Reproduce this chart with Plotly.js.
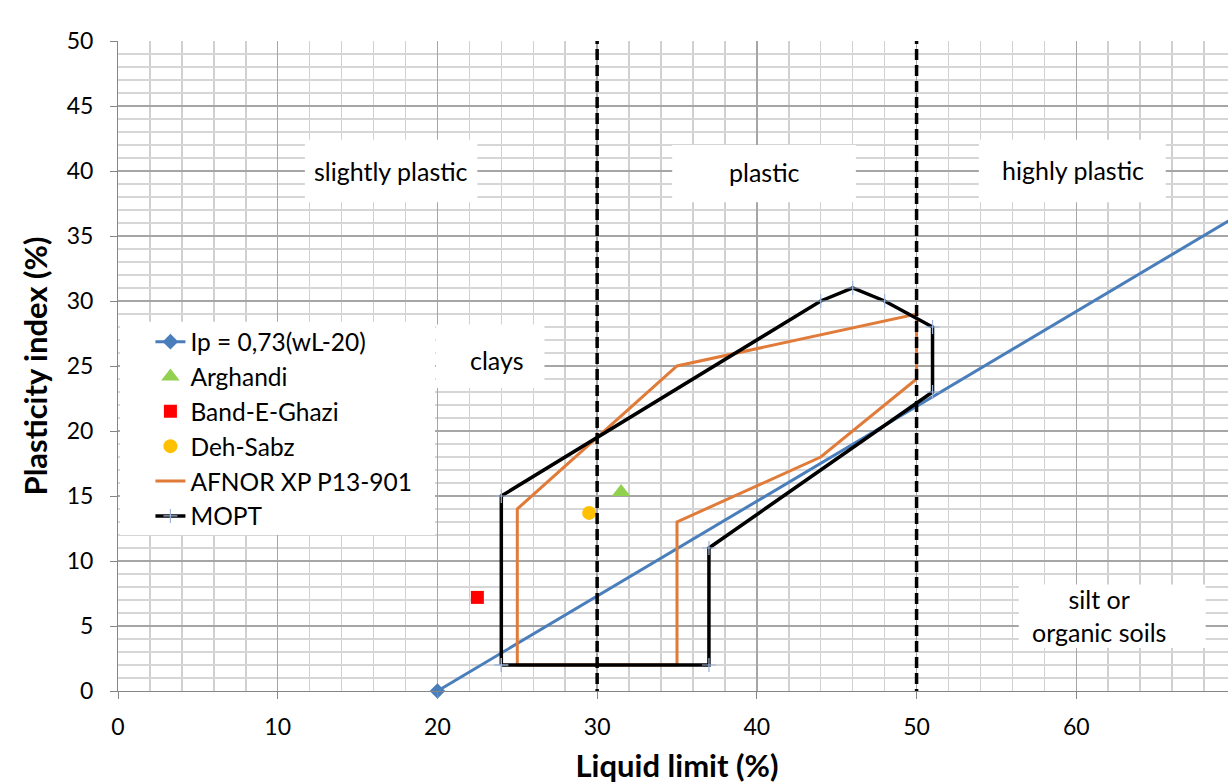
<!DOCTYPE html>
<html>
<head>
<meta charset="utf-8">
<script src="https://cdn.plot.ly/plotly-3.0.1.min.js"></script>
<style>
  html, body { margin: 0; padding: 0; overflow: hidden; background: #fff; }
  #chart { width: 1240px; height: 784px; }
</style>
</head>
<body>
<div id="chart"></div>
<script>
// ---- data ----
const ipX = [20, 80];
const ipY = [0, 43.8];
const arghandiX = [31.5];
const arghandiY = [15.3];
const bandX = [22.5];
const bandY = [7.2];
const dehX = [29.5];
const dehY = [13.7];
const afnorX = [25, 25, 35, 50, 50, 44, 35, 35, 25];
const afnorY = [2, 14, 25, 29, 24, 18, 13, 2, 2];
const moptX = [24, 24, 44, 46, 48, 51, 51, 37, 37, 24];
const moptY = [2, 15, 30, 31, 30, 28, 23, 11, 2, 2];
const boundaries = [30, 50];
const seriesNames = ['Ip = 0,73(wL-20)', 'Arghandi', 'Band-E-Ghazi', 'Deh-Sabz', 'AFNOR XP P13-901', 'MOPT'];
const xTicks = [0, 10, 20, 30, 40, 50, 60, 70];
const yTicks = [0, 5, 10, 15, 20, 25, 30, 35, 40, 45, 50];
const regionLabels = [
  {text: 'slightly plastic', x: 17.1, y: 40.0, box: [11.7, 22.5, 37.6, 42.4]},
  {text: 'plastic', x: 40.5, y: 39.9, box: [34.7, 46.2, 37.6, 42.0]},
  {text: 'highly plastic', x: 59.8, y: 40.1, box: [53.9, 65.6, 37.6, 42.4]},
  {text: 'clays', x: 23.7, y: 25.5, box: [19.9, 26.7, 23.3, 28.2]},
  {text: 'silt or<br>organic soils', x: 61.4, y: 5.8, box: [56.4, 68.1, 3.3, 8.2]}
];

const FONT = 'Lato, "Open Sans", sans-serif';

const traces = [
  {x: ipX, y: ipY, name: seriesNames[0], mode: 'lines+markers', legendgroup: 'a',
   line: {color: '#4A7EBB', width: 3},
   marker: {symbol: 'diamond', size: 12, color: '#4A7EBB'}, cliponaxis: false},
  {x: arghandiX, y: arghandiY, name: seriesNames[1], mode: 'markers', legendgroup: 'b',
   marker: {symbol: 'triangle-up', size: 16, color: '#92D050'}},
  {x: bandX, y: bandY, name: seriesNames[2], mode: 'markers', legendgroup: 'c',
   marker: {symbol: 'square', size: 13, color: '#FF0000'}},
  {x: dehX, y: dehY, name: seriesNames[3], mode: 'markers', legendgroup: 'd',
   marker: {symbol: 'circle', size: 14, color: '#FFC000'}},
  {x: afnorX, y: afnorY, name: seriesNames[4], mode: 'lines', legendgroup: 'e',
   line: {color: '#E07B39', width: 3}},
  {x: moptX, y: moptY, name: seriesNames[5], mode: 'lines+markers', legendgroup: 'f',
   line: {color: '#000000', width: 3.5},
   marker: {symbol: 'cross-thin', size: 10, color: '#9DB4D6', line: {color: '#9DB4D6', width: 1.2}}}
];

const shapes = [];
regionLabels.forEach(r => {
  shapes.push({type: 'rect', xref: 'x', yref: 'y', x0: r.box[0], x1: r.box[1], y0: r.box[2], y1: r.box[3],
    fillcolor: '#ffffff', line: {width: 0}, layer: 'between'});
});
// legend background box
shapes.push({type: 'rect', xref: 'x', yref: 'y', x0: 0.12, x1: 19.85, y0: 12.0, y1: 28.4,
  fillcolor: '#ffffff', line: {width: 0}, layer: 'between'});
boundaries.forEach(b => {
  shapes.push({type: 'line', xref: 'x', yref: 'y', x0: b, x1: b, y0: -0.7, y1: 50,
    line: {color: '#000000', width: 3.5, dash: '11px,5px'}, layer: 'above'});
});

const annotations = regionLabels.map(r => ({
  x: r.x, y: r.y, xref: 'x', yref: 'y', text: r.text, showarrow: false,
  font: {family: FONT, size: 25, color: '#000'}, align: 'center'
}));

const layout = {
  width: 1240, height: 784,
  margin: {l: 118, r: 4, t: 41, b: 93},
  paper_bgcolor: '#ffffff', plot_bgcolor: '#ffffff',
  font: {family: FONT, color: '#000'},
  showlegend: true,
  legend: {x: 0.029, y: 0.572, xanchor: 'left', yanchor: 'top', bgcolor: 'rgba(0,0,0,0)',
    font: {family: FONT, size: 24.5, color: '#000'}, traceorder: 'grouped', tracegroupgap: 0},
  xaxis: {
    range: [0, 70], tickvals: xTicks, ticktext: xTicks.map(String),
    showline: true, linecolor: '#868686', linewidth: 1,
    ticks: 'outside', ticklen: 7, tickcolor: '#868686',
    showgrid: true, gridcolor: '#a6a6a6', gridwidth: 1.5,
    minor: {dtick: 2, showgrid: true, gridcolor: '#d0d0d0', gridwidth: 1.5},
    zeroline: false, tickfont: {family: FONT, size: 23, color: '#000'}, ticklabelstandoff: 8,
    title: {text: 'Liquid limit (%)', font: {family: FONT, size: 31, color: '#000', weight: 'bold'}, standoff: 17}
  },
  yaxis: {
    range: [0, 50], tickvals: yTicks, ticktext: yTicks.map(String),
    showline: true, linecolor: '#868686', linewidth: 1,
    ticks: 'outside', ticklen: 7, tickcolor: '#868686',
    showgrid: true, gridcolor: '#a6a6a6', gridwidth: 1.5,
    minor: {dtick: 1, showgrid: true, gridcolor: '#d6d6d6', gridwidth: 1.5},
    zeroline: false, tickfont: {family: FONT, size: 23, color: '#000'}, ticklabelstandoff: 12,
    title: {text: 'Plasticity index (%)', font: {family: FONT, size: 31, color: '#000', weight: 'bold'}, standoff: 9}
  },
  shapes: shapes,
  annotations: annotations
};

Plotly.newPlot('chart', traces, layout, {displayModeBar: false, staticPlot: true});
</script>
</body>
</html>
